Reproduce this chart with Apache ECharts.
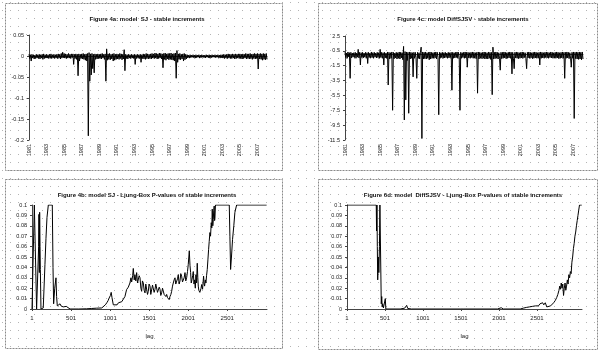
<!DOCTYPE html>
<html><head><meta charset="utf-8">
<script src="https://cdn.jsdelivr.net/npm/echarts@6/dist/echarts.min.js"></script>
<style>
html,body{margin:0;padding:0;background:#fff;}
#c{width:600px;height:353px;background-color:#fff;
background-image:linear-gradient(to right,#fff 7px,rgba(255,255,255,0) 7px),linear-gradient(to bottom,#fff 7px,#b4b4b4 7px);
background-size:8px 8px;background-position:3px 3px;}
</style></head><body><div id="c"></div>
<script>
// ---- tick labels ----
const yearTicks = ['1981','1983','1985','1987','1989','1991','1993','1995','1997','1999','2001','2003','2005','2007'];
const lagTicks = [1, 501, 1001, 1501, 2001, 2501];
const sjYTicks = [0.05, 0, -0.05, -0.1, -0.15, -0.2];
const svYTicks = [2.5, 0.5, -1.5, -3.5, -5.5, -7.5, -9.5, -11.5];
const titles = [
  'Figure 4a: model  SJ - stable increments',
  'Figure 4c: model DiffSJSV - stable increments',
  'Figure 4b: model SJ - Ljung-Box P-values of stable increments',
  'Figure 6d: model  DiffSJSV - Ljung-Box P-values of stable increments'
];
// ---- Figure 4a: SJ stable increments (monthly, Jan 1981 - Feb 2008) ----
const sjIncrements = [
 .004,-.006,.003,-.012,.004,-.005,.003,-.007,.002,-.006,.004,-.005,
 .003,-.006,.004,-.007,.003,-.005,.004,-.008,.005,-.006,.003,-.005,
 .004,-.005,.003,-.006,.004,-.005,.005,-.006,.003,-.005,.004,-.006,
 .003,-.005,.004,-.006,.005,-.005,.004,-.007,.006,-.005,.009,-.004,
 .006,-.005,.005,-.006,.004,-.005,.006,-.005,.004,-.006,.005,-.004,
 .005,-.020,.004,-.006,.005,-.008,.004,-.047,.005,-.012,.004,-.006,
 .005,-.007,.006,-.008,.004,-.010,.005,-.012,.006,-.190,.008,-.060,
 .005,-.045,.006,-.030,.004,-.040,.005,-.008,.004,-.007,.005,-.006,
 .004,-.006,.005,-.007,.006,-.005,.004,-.008,.005,-.060,.017,-.010,
 .005,-.008,.006,-.009,.004,-.007,.005,-.012,.006,-.010,.004,-.008,
 .005,-.007,.004,-.008,.006,-.006,.005,-.009,.004,-.007,.015,-.035,
 .004,-.006,.003,-.007,.004,-.005,.003,-.006,.004,-.005,.003,-.006,
 .004,-.020,.003,-.006,.004,-.005,.003,-.006,.004,-.015,.003,-.006,
 .005,-.007,.004,-.008,.006,-.006,.005,-.007,.004,-.006,.005,-.007,
 .006,-.005,.005,-.006,.007,-.005,.006,-.007,.005,-.006,.007,-.005,
 .006,-.007,.005,-.028,.006,-.008,.007,-.010,.005,-.007,.006,-.009,
 .006,-.008,.007,-.009,.005,-.010,.006,-.012,.007,-.053,.013,-.015,
 .005,-.008,.006,-.009,.004,-.007,.005,-.012,.006,-.009,.004,-.007,
 .003,-.004,.002,-.005,.003,-.004,.002,-.003,.003,-.004,.002,-.005,
 .003,-.004,.002,-.003,.003,-.005,.002,-.004,.003,-.003,.002,-.004,
 .002,-.004,.003,-.003,.002,-.004,.003,-.005,.002,-.004,.003,-.003,
 .002,-.003,.003,-.004,.002,-.003,.003,-.004,.002,-.005,.003,-.004,
 .003,-.005,.004,-.006,.003,-.005,.004,-.006,.005,-.005,.004,-.006,
 .004,-.006,.005,-.005,.004,-.007,.005,-.006,.004,-.005,.005,-.006,
 .005,-.006,.004,-.007,.005,-.006,.004,-.005,.006,-.007,.005,-.006,
 .005,-.007,.006,-.006,.004,-.008,.005,-.006,.006,-.007,.005,-.006,
 .006,-.031,.005,-.007,.006,-.008,.005,-.010,.006,-.008,.005,-.009,
 .006,-.008
];
// ---- Figure 4c: DiffSJSV stable increments (monthly) ----
const svIncrements = [
 0.3,-0.4,0.2,-0.5,0.35,-0.3,0.25,-3.2,0.3,-0.45,0.2,-0.35,
 0.25,-0.4,0.3,-0.5,0.2,-0.35,0.7,-0.45,0.3,-1.4,0.25,-0.4,
 0.3,-0.45,0.2,-0.35,0.3,-0.5,0.25,-1.2,0.3,-0.4,0.2,-0.45,
 0.35,-0.4,0.25,-0.5,0.3,-0.35,0.2,-0.45,0.3,-0.4,0.25,-0.5,
 0.7,-0.4,0.3,-0.5,0.25,-1.4,0.3,-0.45,0.2,-0.5,0.35,-4.1,
 0.3,-0.6,0.25,-0.5,0.35,-7.5,0.3,-0.55,0.2,-0.45,0.3,-0.6,
 0.25,-0.5,0.35,-0.6,0.3,-0.45,0.25,-0.7,1.1,-8.8,0.4,-6.1,
 0.35,-0.8,0.3,-7.9,0.35,-0.6,0.3,-0.5,0.25,-3.0,0.3,-0.5,
 0.3,-0.45,-3.2,0.3,-0.5,0.25,-0.6,0.3,1.0,-11.3,0.35,-0.6,
 0.3,-0.55,0.35,-0.6,0.25,-0.5,0.3,-0.7,0.35,-0.6,0.3,-0.5,
 0.25,-0.5,0.3,-0.45,0.35,-0.6,0.3,-0.4,-8.1,0.3,-0.5,0.25,
 -0.4,0.3,-0.5,0.25,-0.45,0.3,-0.4,0.2,-0.5,0.3,-0.45,0.25,
 -0.4,0.3,-4.8,0.3,-0.5,0.25,-0.45,0.3,-0.4,0.35,-0.5,0.3,
 -0.45,-7.5,0.3,-0.5,0.25,-0.4,0.3,-0.5,0.35,-0.45,0.3,-1.7,
 0.3,-0.45,0.25,-0.5,0.3,-0.4,0.35,-0.5,0.3,-0.45,0.25,-0.55,
 0.3,-5.2,0.35,-0.6,0.3,-0.5,0.25,-0.55,0.3,-0.5,0.35,-0.6,
 0.3,-0.55,0.25,-0.6,0.35,-0.5,0.3,-0.65,0.3,-5.4,1.0,-0.6,
 0.3,-0.55,0.35,-0.5,0.3,-0.6,0.25,-0.5,-2.1,0.3,-0.55,0.3,
 -0.5,0.35,-0.45,0.3,-0.55,0.25,-0.5,0.3,-0.45,0.35,-0.5,0.3,
 -2.6,0.3,-0.5,-1.9,0.3,-0.45,0.35,-0.5,0.3,-0.55,0.25,-0.5,
 0.3,-0.45,0.35,-0.5,0.3,-0.4,0.25,-0.5,-1.9,0.3,-0.45,0.35,
 -0.5,0.3,-0.45,0.25,-0.55,0.3,-0.5,0.35,-0.45,0.3,-0.5,0.25,
 -0.45,0.3,-1.4,0.35,-0.5,0.3,-0.45,0.25,-0.5,0.3,-0.4,0.35,
 -0.45,0.3,-0.5,0.25,-0.4,0.35,-0.45,0.3,-0.5,0.25,-0.45,0.3,
 -0.5,0.35,-0.45,0.3,-0.55,0.25,-0.5,0.3,-0.45,0.35,-0.5,0.3,
 -3.2,0.3,-0.5,0.35,-0.45,0.3,-0.55,0.25,-0.5,-1.7,0.3,-0.5,
 0.35,-8.6,0.3,-0.55,0.35,-0.6,0.3,-0.65,0.35,-0.6,0.3,-0.7,
 0.35,-0.6
];
// ---- Figure 4b: SJ Ljung-Box p-values ----
const sjLags = [1,25,31,55,60,80,86,90,95,99,104,108,116,145,150,167,180,193,210,261,270,278,292,300,308,316,325,338,350,360,372,385,400,410,425,440,460,488,600,700,766,830,894,916,940,959,975,989,1005,1015,1025,1042,1065,1090,1108,1127,1150,1169,1191,1212,1234,1255,1268,1277,1290,1298,1310,1319,1330,1341,1352,1362,1373,1384,1395,1405,1415,1426,1437,1448,1458,1469,1480,1490,1500,1512,1522,1533,1544,1554,1565,1576,1586,1597,1608,1618,1630,1640,1650,1661,1672,1682,1693,1704,1715,1725,1736,1746,1757,1768,1779,1789,1800,1810,1821,1832,1842,1853,1864,1874,1885,1896,1906,1917,1928,1938,1949,1960,1970,1981,1992,2002,2015,2024,2032,2040,2049,2058,2066,2075,2083,2092,2100,2108,2117,2124,2130,2137,2143,2150,2160,2166,2173,2185,2192,2198,2205,2211,2220,2228,2236,2245,2254,2262,2270,2279,2287,2296,2303,2309,2316,2322,2328,2334,2339,2343,2350,2527,2535,2544,2555,2569,2585,2599,2621,3005];
const sjPValues = [0,0,0.1,0.1,0,0,0.06,0.091,0.035,0.093,0.06,0.038,0,0.001,0,0.043,0.068,0.088,0.1,0.1,0.04,0.005,0.02,0.025,0.03,0.012,0.003,0.004,0.0026,0.005,0.003,0.004,0.002,0.0035,0.0015,0.0025,0.001,0,0,0.0002,0.0005,0.0008,0.001,0.0016,0.004,0.006,0.008,0.0106,0.013,0.016,0.011,0.004,0.005,0.004,0.006,0.0065,0.007,0.0075,0.012,0.0186,0.021,0.025,0.03,0.026,0.032,0.039,0.028,0.033,0.027,0.035,0.025,0.0235,0.032,0.03,0.02,0.017,0.027,0.025,0.018,0.0155,0.024,0.0235,0.014,0.017,0.024,0.022,0.014,0.0155,0.023,0.022,0.016,0.019,0.024,0.0226,0.016,0.017,0.021,0.019,0.013,0.0155,0.02,0.019,0.014,0.0155,0.012,0.014,0.011,0.0106,0.009,0.012,0.014,0.017,0.022,0.025,0.028,0.03,0.024,0.025,0.029,0.033,0.024,0.027,0.034,0.0316,0.026,0.025,0.03,0.035,0.027,0.03,0.036,0.043,0.056,0.042,0.035,0.025,0.028,0.032,0.036,0.024,0.028,0.02,0.033,0.025,0.044,0.03,0.022,0.018,0.019,0.016,0.017,0.02,0.0235,0.019,0.026,0.0316,0.024,0.022,0.028,0.025,0.032,0.038,0.048,0.057,0.065,0.0735,0.07,0.083,0.078,0.096,0.08,0.086,0.095,0.099,0.085,0.087,0.1,0.1,0.07,0.038,0.05,0.067,0.08,0.093,0.1,0.1];
// ---- Figure 6d: DiffSJSV Ljung-Box p-values ----
const svLags = [1,386,390,395,400,405,412,420,428,434,448,452,458,464,470,480,495,505,512,700,760,786,800,850,1500,1520,1540,1980,2000,2030,2060,2280,2320,2360,2400,2420,2440,2460,2480,2500,2520,2540,2555,2575,2590,2610,2630,2650,2680,2700,2720,2740,2760,2775,2790,2800,2810,2820,2830,2840,2850,2860,2870,2880,2890,2900,2910,2920,2930,2940,2950,2960,2970,2980,2990,3000,3010,3020,3030,3040,3050,3060,3090];
const svPValues = [0.1,0.1,0.075,0.1,0.06,0.028,0.05,0.035,0.06,0.1,0.1,0.005,0.012,0.002,0.005,0.001,0.002,0.01,0,0,0.0008,0.0035,0.0005,0,0,0.0003,0,0,0.0006,0.0012,0,0,0.0008,0.0015,0.002,0.003,0.0025,0.004,0.003,0.0045,0.003,0.005,0.0035,0.006,0.004,0.006,0.002,0.002,0.003,0.004,0.006,0.008,0.011,0.014,0.018,0.022,0.019,0.025,0.02,0.024,0.013,0.02,0.025,0.018,0.022,0.028,0.024,0.033,0.03,0.036,0.034,0.045,0.05,0.058,0.063,0.07,0.074,0.08,0.085,0.09,0.095,0.1,0.1];

// month categories
const months = [];
for (let y = 1981; y <= 2008; y++) {
  for (let m = 1; m <= 12; m++) {
    if (months.length >= sjIncrements.length) break;
    months.push(m === 1 ? String(y) : y + '-' + m);
  }
}
const isTick = (i, v) => yearTicks.indexOf(v) >= 0;
const pair = (xs, ys) => xs.map((x, i) => [x, ys[i]]);

const FF = 'Liberation Sans';
const lblC = '#222';
const axC = '#444';
const grids = [
  {left: 29, top: 35, width: 238, height: 105},
  {left: 345, top: 36, width: 238, height: 104},
  {left: 32, top: 205, width: 235, height: 104},
  {left: 347, top: 205, width: 235, height: 104}
];
function catX(gi) {
  return {type: 'category', gridIndex: gi, data: months, boundaryGap: false,
    axisLine: {lineStyle: {color: axC, width: 1}},
    axisTick: {show: true, interval: isTick, length: 2, lineStyle: {color: axC}},
    axisLabel: {interval: isTick, rotate: 90, fontSize: 5.5, color: lblC, margin: 4, fontFamily: FF}};
}
function lagX(gi, max) {
  return {type: 'value', gridIndex: gi, min: 1, max: max,
    name: 'lag', nameLocation: 'middle', nameGap: 24,
    nameTextStyle: {fontSize: 6, color: lblC, fontFamily: FF},
    axisLine: {lineStyle: {color: axC}},
    axisTick: {show: true, length: 2, customValues: lagTicks, lineStyle: {color: axC}},
    axisLabel: {customValues: lagTicks, formatter: v => String(v), fontSize: 6, color: lblC, margin: 6, fontFamily: FF},
    splitLine: {show: false}};
}
function valY(gi, min, max, ticks, interval) {
  const o = {type: 'value', gridIndex: gi, min: min, max: max,
    axisLine: {show: true, lineStyle: {color: axC}},
    axisTick: {show: true, length: 2, lineStyle: {color: axC}},
    axisLabel: {fontSize: 5.5, color: lblC, margin: 5, fontFamily: FF},
    splitLine: {show: false}};
  if (ticks) { o.axisLabel.customValues = ticks; o.axisTick.customValues = ticks; }
  if (interval) o.interval = interval;
  return o;
}
const lineS = (xi, data) => ({type: 'line', xAxisIndex: xi, yAxisIndex: xi, data: data,
  showSymbol: false, symbol: 'none', lineStyle: {color: '#000', width: 1}, silent: true});

const titlePos = [[142, 11], [458, 11], [142, 187], [458, 187]];
const borders = [[5.5, 3.5, 277, 167], [318.5, 3.5, 279, 167], [5.5, 179.5, 277, 169], [318.5, 179.5, 279, 170]];

const chart = echarts.init(document.getElementById('c'), null, {renderer: 'canvas'});
chart.setOption({
  backgroundColor: 'transparent',
  animation: false,
  textStyle: {fontFamily: FF},
  title: titles.map((t, i) => ({text: t, left: titlePos[i][0], top: titlePos[i][1], textAlign: 'center',
    textStyle: {fontSize: 6, fontWeight: 'bold', color: '#111', fontFamily: FF}})),
  grid: grids,
  xAxis: [catX(0), catX(1), lagX(2, 3010), lagX(3, 3093)],
  yAxis: [
    valY(0, -0.2, 0.05, null, 0.05),
    valY(1, -11.5, 2.5, svYTicks, null),
    valY(2, 0, 0.1, null, 0.01),
    valY(3, 0, 0.1, null, 0.01)
  ],
  series: [
    lineS(0, sjIncrements),
    lineS(1, svIncrements),
    lineS(2, pair(sjLags, sjPValues)),
    lineS(3, pair(svLags, svPValues))
  ],
  graphic: borders.map(b => ({type: 'rect', silent: true,
    shape: {x: b[0], y: b[1], width: b[2], height: b[3]},
    style: {fill: 'none', stroke: '#8a8a8a', lineWidth: 1, lineDash: [2, 1]}}))
});
</script></body></html>
